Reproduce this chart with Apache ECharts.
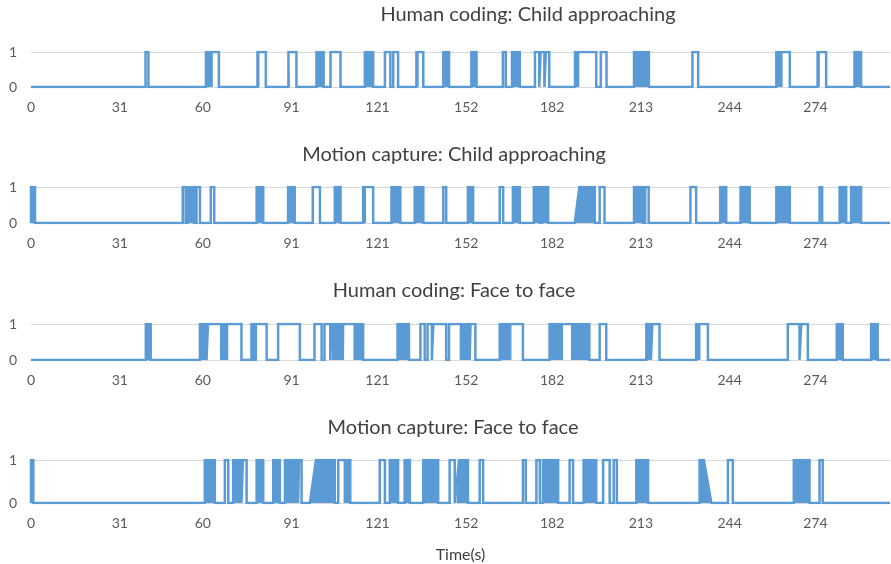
<!DOCTYPE html>
<html>
<head>
<meta charset="utf-8">
<script src="https://cdn.jsdelivr.net/npm/echarts@6/dist/echarts.min.js"></script>
<style>
  html, body { margin: 0; padding: 0; background: #fff; }
  #chart { width: 891px; height: 564px; }
</style>
</head>
<body>
<div id="chart"></div>
<script>
// tick labels (days-of-year style offsets used by the source axis)
const tickValues = [0, 31, 60, 91, 121, 152, 182, 213, 244, 274];
const xMax = 300;

const panelTitles = [
  "Human coding: Child approaching",
  "Motion capture: Child approaching",
  "Human coding: Face to face",
  "Motion capture: Face to face"
];

// high periods [start, end] (or [riseStart, riseEnd, fallStart, fallEnd] for slanted edges)
const humanApproachHigh = [
  [40, 41], [63.5, 65.6], [79.1, 82], [89.9, 92.7], [104.6, 108.1],
  [123.6, 125.5], [126.5, 128.2], [134.6, 137], [164.8, 165.8],
  [176, 177.5], [178, 179.3], [179.8, 181], [190, 197.4], [199, 201],
  [231, 233], [262.5, 265], [274.7, 277.7]
];
// stretches of rapid toggling that render as solid blocks
const humanApproachDense = [
  [61.1, 63.5], [79.1, 79.8], [89.9, 90.5], [99.7, 102.2], [116.6, 119.5],
  [134.6, 135.4], [144, 146], [153.8, 155.6], [168, 170.7], [190, 191.5],
  [210.6, 215.8], [260.3, 262.5], [274.7, 275.5], [287.6, 289.9]
];

const mocapApproachHigh = [
  [53, 54], [57.8, 59], [62.8, 64], [98.4, 100.9], [116, 119.5], [144, 145],
  [163.7, 164.9], [198.6, 200.3], [214.5, 215.7], [230.3, 232.3], [275.4, 276.3]
];
const mocapApproachDense = [
  [0, 1.4], [54.7, 57], [78.8, 81.1], [89.8, 92.1], [106.1, 108.1], [116, 117],
  [125.9, 129], [134, 137], [152.6, 154.4], [168.3, 170.7], [175.6, 177.7],
  [178.5, 180.6], [189.9, 191.5, 196.9, 196.9], [210.6, 213.7], [240.7, 242.8],
  [247.8, 251], [260.3, 265], [282.4, 284.7], [286.4, 289.9]
];

const humanFaceHigh = [
  [61.8, 66], [68.9, 73.5], [77, 77.7], [78.5, 82.3], [86.3, 93.9],
  [99, 101.5], [102.5, 104.5], [109, 112.6], [136, 137.5], [138.5, 140],
  [140.5, 145], [146, 149.7], [153.5, 155.2], [167.8, 171.8], [185.8, 189],
  [198.6, 200.9], [217, 219.5], [233.8, 236.4], [264.3, 268.4], [269, 271.3]
];
const humanFaceDense = [
  [40.1, 41.8], [59, 61.3], [66, 68.9], [105, 108.9], [112.6, 116], [128, 132],
  [149.7, 153.2], [163.7, 167.8], [181.1, 185.8], [189.3, 195], [214.9, 216.5],
  [232.3, 233.8], [281.4, 283.5], [293.4, 295.7]
];

const mocapFaceHigh = [
  [0, 0.8], [67.7, 68.9], [74, 75.3], [93.6, 94.5], [107.3, 109.6],
  [121.8, 123.6], [146.2, 148], [156.7, 157.9], [171.8, 172.8], [176.5, 177.7],
  [188.1, 189.3], [199.8, 202.1], [203.5, 204.6], [243.4, 245.1], [275.4, 276.5]
];
const mocapFaceDense = [
  [60.7, 64.2], [70.6, 73.5], [78.8, 81.1], [84.6, 86.9], [88.7, 93.3],
  [97.4, 99.5, 106.1, 106.1], [109.8, 111.5], [125.3, 128.2], [130.5, 132.3],
  [137, 142.2], [148.6, 149.5, 152.6, 152.6], [178.8, 184.1], [193, 197.4],
  [211.4, 215.5], [233.5, 233.5, 235, 237.6], [266.4, 271.9]
];

const panels = [
  { high: humanApproachHigh, dense: humanApproachDense },
  { high: mocapApproachHigh, dense: mocapApproachDense },
  { high: humanFaceHigh, dense: humanFaceDense },
  { high: mocapFaceHigh, dense: mocapFaceDense }
];

// layout
const gridBoxes = [
  { top: 52, height: 35 },
  { top: 187, height: 36 },
  { top: 324, height: 36 },
  { top: 460, height: 44 }
];
const titleCenters = [528, 454, 454, 453];
const titleTops = [5, 145, 281, 418];

const blue = "#5B9BD5";
const labelGrey = "#595959";

function edges(iv) {
  return iv.length === 4 ? iv.slice() : [iv[0], iv[0], iv[1], iv[1]];
}

// merge all high stretches into one sorted, non-overlapping list
function mergeAll(high, dense) {
  const all = high.concat(dense).map(edges).sort((a, b) => a[0] - b[0]);
  const out = [];
  all.forEach(e => {
    const last = out[out.length - 1];
    if (last && e[0] <= last[3] + 0.05) {
      if (e[3] > last[3]) { last[2] = e[2]; last[3] = e[3]; }
    } else {
      out.push(e);
    }
  });
  return out;
}

function toPath(list) {
  const pts = [[0, 0]];
  list.forEach(e => {
    pts.push([e[0], 0], [e[1], 1], [e[2], 1], [e[3], 0]);
  });
  pts.push([xMax, 0]);
  return pts;
}

const chart = echarts.init(document.getElementById("chart"));

const grid = gridBoxes.map(g => ({ left: 31, right: 1, top: g.top, height: g.height }));

const xAxis = gridBoxes.map((g, i) => ({
  type: "value",
  gridIndex: i,
  min: 0,
  max: xMax,
  axisLine: { show: true, lineStyle: { color: "#d9d9d9" } },
  axisTick: { show: false },
  splitLine: { show: false },
  axisLabel: {
    customValues: tickValues,
    color: labelGrey,
    fontSize: 14,
    fontFamily: "Lato",
    margin: 13
  },
  name: i === 3 ? "Time(s)" : "",
  nameLocation: "middle",
  nameGap: 44,
  nameTextStyle: { color: "#404040", fontSize: 16, fontFamily: "Lato" }
}));

const yAxis = gridBoxes.map((g, i) => ({
  type: "value",
  gridIndex: i,
  min: 0,
  max: 1,
  interval: 1,
  axisLine: { show: false },
  axisTick: { show: false },
  splitLine: { lineStyle: { color: "#d9d9d9", width: 1 } },
  axisLabel: { color: labelGrey, fontSize: 14, fontFamily: "Lato", margin: 14 }
}));

const series = [];
panels.forEach((p, i) => {
  series.push({
    type: "line",
    xAxisIndex: i,
    yAxisIndex: i,
    data: toPath(p.dense.map(edges).sort((a, b) => a[0] - b[0])),
    showSymbol: false,
    lineStyle: { width: 0 },
    areaStyle: { color: blue, opacity: 1 },
    silent: true
  });
  series.push({
    type: "line",
    xAxisIndex: i,
    yAxisIndex: i,
    data: toPath(mergeAll(p.high, p.dense)),
    showSymbol: false,
    lineStyle: { color: blue, width: 2.5, join: "miter" },
    silent: true
  });
});

const title = panelTitles.map((t, i) => ({
  text: t,
  left: titleCenters[i],
  top: titleTops[i],
  textAlign: "center",
  padding: 0,
  textStyle: { color: "#404040", fontSize: 20, fontWeight: "normal", fontFamily: "Lato" }
}));

chart.setOption({
  animation: false,
  color: [blue],
  title: title,
  grid: grid,
  xAxis: xAxis,
  yAxis: yAxis,
  series: series
});
</script>
</body>
</html>
